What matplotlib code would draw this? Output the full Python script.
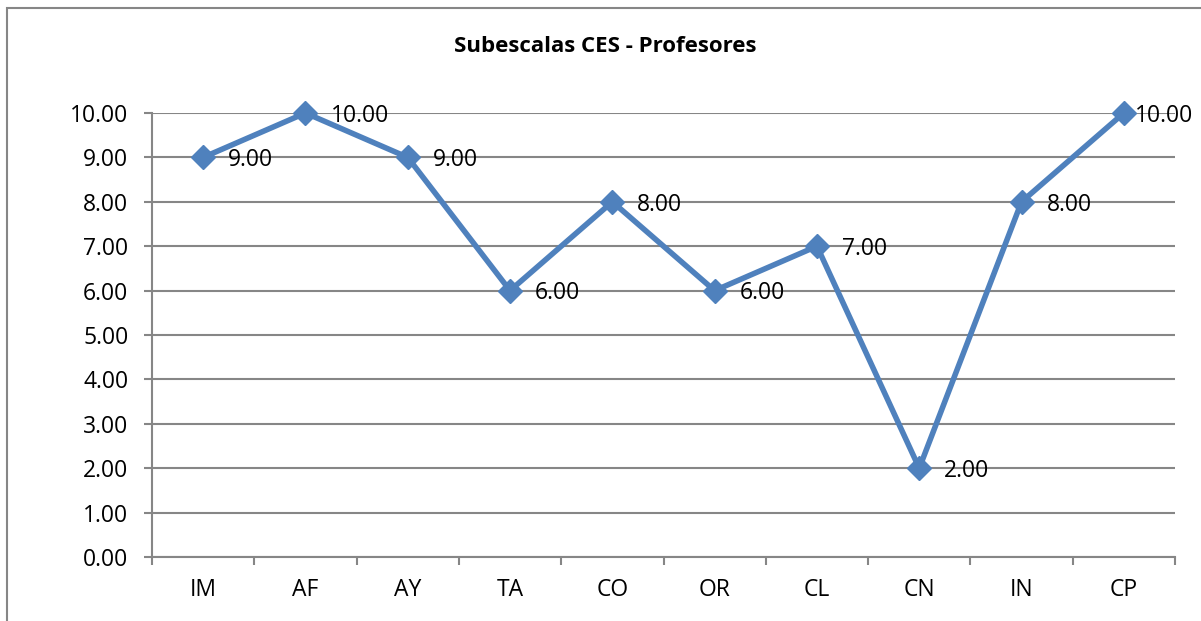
import matplotlib
matplotlib.use("Agg")
import matplotlib.pyplot as plt
from matplotlib.patches import Rectangle
import numpy as np

categories = ["IM", "AF", "AY", "TA", "CO", "OR", "CL", "CN", "IN", "CP"]
values = [9, 10, 9, 6, 8, 6, 7, 2, 8, 10]
yticks = [0, 1, 2, 3, 4, 5, 6, 7, 8, 9, 10]
title = "Subescalas CES - Profesores"

plt.rcParams['font.family'] = ['Open Sans', 'DejaVu Sans']

fig = plt.figure(figsize=(12.01, 6.21), dpi=100)
ax = fig.add_axes([152/1201, 1-557/621, (1175-152)/1201, (557-113)/621])

grid_c = "#868686"
x = np.arange(len(categories))
ax.plot(x, values, color="#4F81BD", lw=4, marker="D", ms=12, zorder=3, clip_on=False)
for i, (xi, v) in enumerate(zip(x, values)):
    dx = 18 if i < len(x) - 1 else 8
    ax.annotate(f"{v:.2f}", (xi, v), xytext=(dx, -2), textcoords="offset points",
                ha="left", va="center", fontsize=16.5, color="black", zorder=4,
                annotation_clip=False)

ax.set_xlim(-0.5, len(categories) - 0.5)
ax.set_ylim(0, 10)
ax.set_yticks(yticks)
ax.set_yticklabels([f"{t:.2f}" for t in yticks], fontsize=16.5)
ax.set_xticks(x)
ax.set_xticklabels(categories, fontsize=16.5)
ax.set_xticks(np.arange(-0.5, len(categories)), minor=True)
ax.tick_params(axis="x", which="major", length=0, pad=15)
ax.tick_params(axis="x", which="minor", length=6, width=1.5, color=grid_c, direction="out")
ax.tick_params(axis="y", length=6, width=1.5, color=grid_c, direction="out", pad=11)
ax.yaxis.grid(True, color=grid_c, lw=1.5)
ax.set_axisbelow(True)
for s in ["top", "right"]:
    ax.spines[s].set_visible(False)
for s in ["left", "bottom"]:
    ax.spines[s].set_color(grid_c)
    ax.spines[s].set_linewidth(1.5)

fig.text(605/1201, 1-46/621, title, ha="center", va="center", fontsize=16, fontweight="bold")

fig.patches.append(Rectangle((7/1201, -0.1), 1.2, 1-8/621+0.1, transform=fig.transFigure,
                             fill=False, edgecolor="#868686", lw=1.5))

fig.savefig("out.png", dpi=100)
